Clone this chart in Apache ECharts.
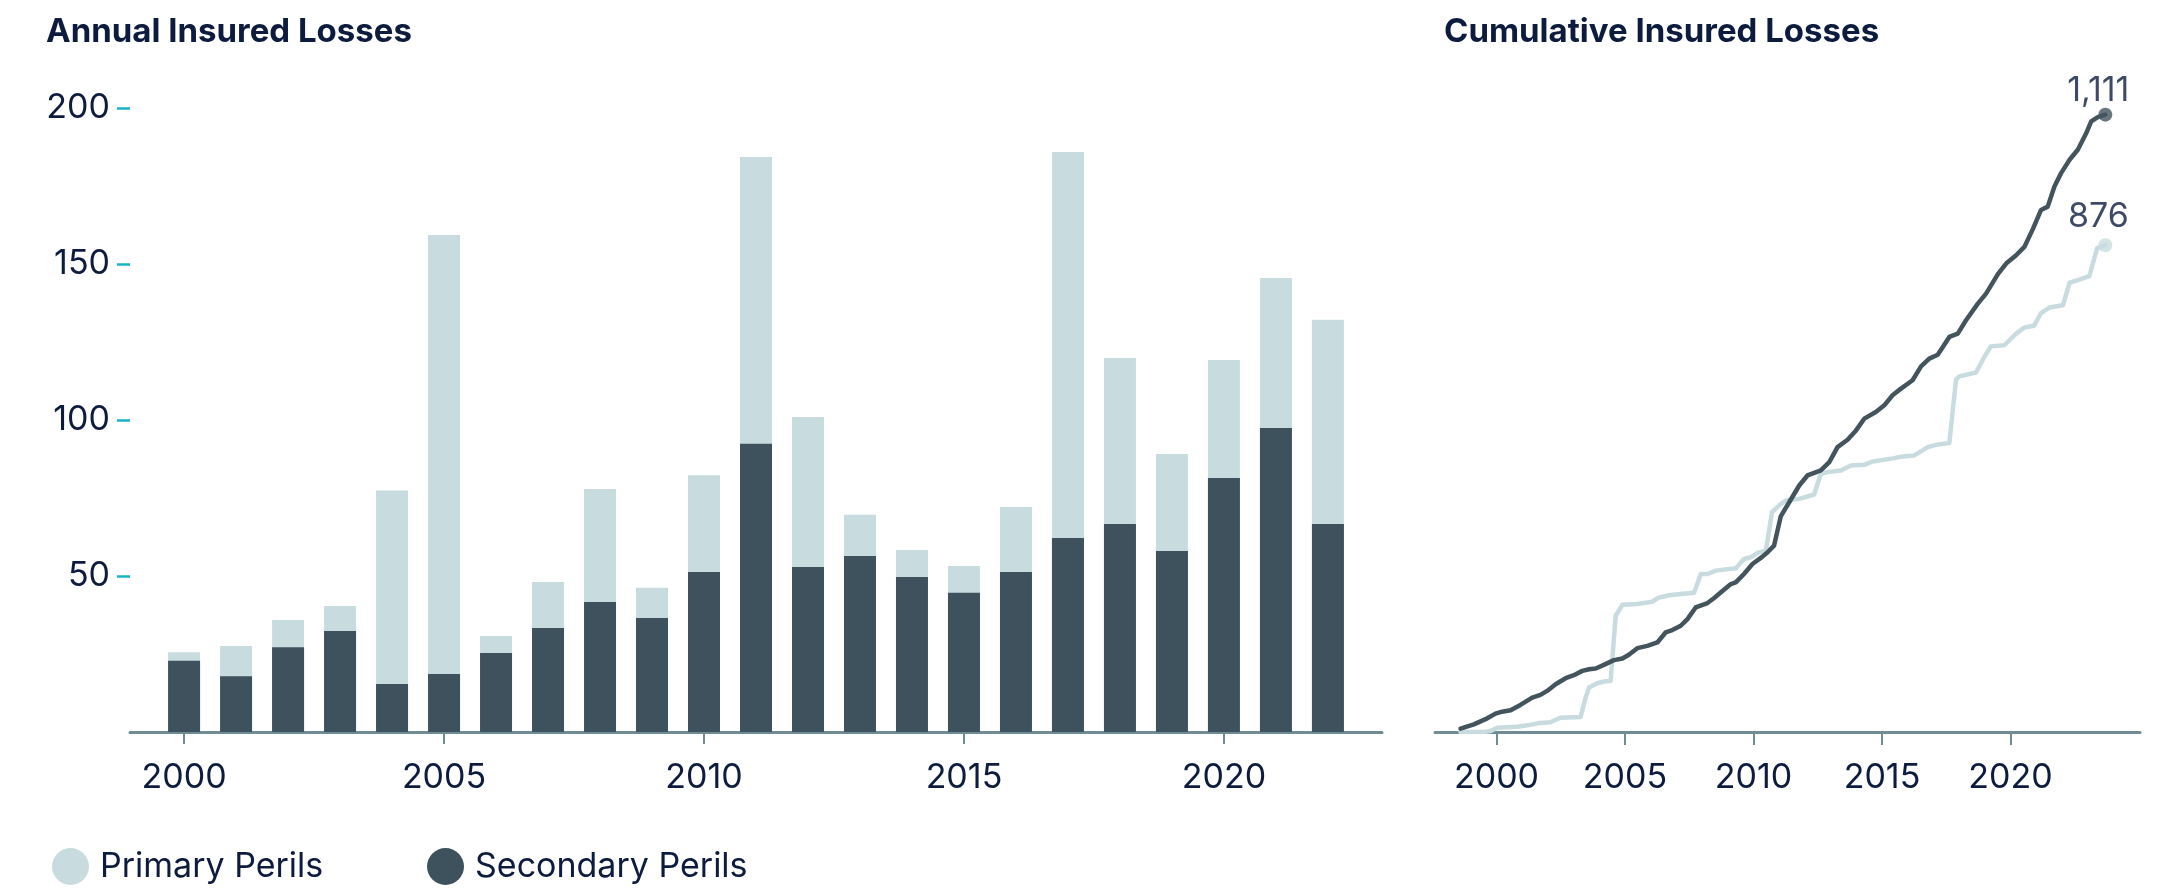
<!DOCTYPE html>
<html>
<head>
<meta charset="utf-8">
<title>Insured Losses</title>
<script src="https://cdn.jsdelivr.net/npm/echarts@6/dist/echarts.min.js"></script>
<style>
  html, body { margin: 0; padding: 0; background: #fff; }
  #chart { width: 2173px; height: 889px; }
</style>
</head>
<body>
<div id="chart"></div>
<script>
// annual insured losses (left panel)
const years = [2000, 2001, 2002, 2003, 2004, 2005, 2006, 2007, 2008, 2009, 2010, 2011,
  2012, 2013, 2014, 2015, 2016, 2017, 2018, 2019, 2020, 2021, 2022];
const secondaryPerils = [22.8, 17.9, 27.2, 32.4, 15.4, 18.6, 25.3, 33.3, 41.7, 36.5, 51.3, 92.4,
  52.9, 56.4, 49.7, 44.6, 51.3, 62.2, 66.7, 58.0, 81.4, 97.4, 66.7];
const primaryPerils = [2.8, 9.7, 8.7, 8.0, 62.0, 140.7, 5.5, 14.8, 36.2, 9.7, 31.0, 91.9,
  48.1, 13.2, 8.6, 8.6, 20.8, 123.7, 53.2, 31.1, 37.8, 48.1, 65.4];
const yTicks = [50, 100, 150, 200];
const xTicks = [2000, 2005, 2010, 2015, 2020];

// cumulative insured losses (right panel)
const secCumX = [1998.60, 1999.12, 1999.64, 1999.96, 2000.22, 2000.55, 2000.93, 2001.39, 2001.71, 2001.97,
  2002.30, 2002.69, 2003.01, 2003.34, 2003.60, 2003.86, 2004.18, 2004.57, 2004.90, 2005.15,
  2005.48, 2005.87, 2006.26, 2006.58, 2006.84, 2007.17, 2007.43, 2007.75, 2008.21, 2008.47,
  2008.85, 2009.12, 2009.31, 2009.63, 2009.96, 2010.35, 2010.55, 2010.80, 2011.06, 2011.39,
  2011.78, 2012.10, 2012.62, 2012.95, 2013.27, 2013.66, 2013.99, 2014.31, 2014.76, 2015.09,
  2015.41, 2015.74, 2016.19, 2016.52, 2016.84, 2017.17, 2017.62, 2017.95, 2018.27, 2018.73,
  2019.05, 2019.51, 2019.83, 2020.22, 2020.54, 2020.87, 2021.19, 2021.45, 2021.71, 2021.97,
  2022.30, 2022.62, 2022.95, 2023.14, 2023.40, 2023.69];
const secCumY = [6, 13.8, 24.6, 33.0, 36.6, 39.1, 48.7, 61.9, 66.7, 73.9,
  86.0, 96.8, 102.2, 110, 113, 114.2, 120.8, 129.3, 132.2, 138.9,
  150.9, 155.1, 161.1, 179.1, 183.4, 191.2, 203.2, 224.2, 232.1, 241.1,
  256.1, 266.3, 269.3, 284.4, 302.4, 315.6, 323.4, 335.4, 388, 413.5,
  443.6, 461.7, 470.7, 485.7, 512.7, 526, 542.8, 563.9, 575.9, 587.9,
  606, 618, 633, 658, 672, 679, 711, 717, 741, 771,
  789, 824, 843, 858, 873, 905, 939.6, 945.5, 981.6, 1005.8,
  1029.8, 1047.8, 1077.9, 1098.8, 1106.7, 1111];
const priCumX = [1998.60, 1999.51, 1999.77, 2000.03, 2000.81, 2001.20, 2001.59, 2002.10, 2002.49, 2003.27,
  2003.47, 2003.60, 2003.92, 2004.18, 2004.44, 2004.64, 2004.90, 2005.48, 2005.87, 2006.06,
  2006.32, 2006.78, 2007.17, 2007.69, 2007.95, 2008.21, 2008.53, 2009.31, 2009.63, 2009.89,
  2010.16, 2010.48, 2010.72, 2011.06, 2011.26, 2011.78, 2012.36, 2012.62, 2012.88, 2013.40,
  2013.79, 2014.31, 2014.64, 2015.48, 2015.81, 2016.26, 2016.78, 2017.17, 2017.62, 2017.88,
  2018.01, 2018.66, 2018.98, 2019.24, 2019.76, 2020.22, 2020.54, 2020.91, 2021.19, 2021.52,
  2022.04, 2022.30, 2022.62, 2023.07, 2023.37, 2023.69];
const priCumY = [0, 0, 1.8, 7.8, 9.6, 12, 15.6, 17.4, 25.8, 27.1,
  61.9, 79.9, 87.8, 90.8, 92, 209.2, 229, 230.2, 233.2, 234.4,
  242.2, 246.5, 248.3, 250.7, 284.4, 284.4, 290.4, 294.5, 311.4, 314.4,
  322.3, 326.4, 395.5, 410, 416.6, 419.6, 427.4, 464.7, 467.7, 470.7,
  479.7, 480.9, 486.9, 492.9, 496, 497.7, 512.7, 517.6, 519.9, 634,
  640, 647, 675, 694, 696, 717, 728, 731, 754, 764,
  768, 808.5, 813.3, 820.6, 870.5, 876];

const FONT = 'Inter';
const INK = '#0d1b3e';
const AXIS = '#6f8b93';
const LIGHT = '#c8dce0';
const DARK = '#3e525d';
const DARK_LINE = '#43545d';

const pairs = (xs, ys) => xs.map((x, i) => [x, ys[i]]);
const lastOf = (xs, ys) => [xs[xs.length - 1], ys[ys.length - 1]];
// light bar is drawn full height behind the dark one
const totals = secondaryPerils.map((v, i) => v + primaryPerils[i]);

const chart = echarts.init(document.getElementById('chart'));

const xLabel = { fontSize: 34, color: INK, fontFamily: FONT, formatter: v => String(v) };
const legendText = { fontSize: 34, color: INK, fontFamily: FONT, padding: [0, 0, 0, 6] };

chart.setOption({
  animation: false,
  title: [
    { text: 'Annual Insured Losses', left: 41, top: 11,
      textStyle: { fontSize: 33, fontWeight: 700, color: INK, fontFamily: FONT } },
    { text: 'Cumulative Insured Losses', left: 1439, top: 11,
      textStyle: { fontSize: 33, fontWeight: 700, color: INK, fontFamily: FONT } }
  ],
  legend: [
    { data: ['Primary Perils'], left: 47, top: 843, icon: 'circle', itemWidth: 37, itemHeight: 37,
      selectedMode: false, textStyle: legendText },
    { data: ['Secondary Perils'], left: 422, top: 843, icon: 'circle', itemWidth: 37, itemHeight: 37,
      selectedMode: false, textStyle: legendText }
  ],
  grid: [
    { left: 130, right: 791, top: 108, bottom: 157 },
    { left: 1435, right: 33, top: 93, bottom: 157 }
  ],
  xAxis: [
    {
      gridIndex: 0, type: 'value', min: 1998.96, max: 2023.04,
      splitLine: { show: false },
      axisLine: { lineStyle: { color: AXIS, width: 3 } },
      axisTick: { length: 12, customValues: xTicks, lineStyle: { color: AXIS, width: 2 } },
      axisLabel: Object.assign({ margin: 29, customValues: xTicks }, xLabel)
    },
    {
      gridIndex: 1, type: 'value', min: 1997.607, max: 2025.04,
      splitLine: { show: false },
      axisLine: { lineStyle: { color: AXIS, width: 3 } },
      axisTick: { length: 13, customValues: xTicks, lineStyle: { color: AXIS, width: 2 } },
      axisLabel: Object.assign({ margin: 29, customValues: xTicks }, xLabel)
    }
  ],
  yAxis: [
    {
      gridIndex: 0, type: 'value', min: 0, max: 200,
      splitLine: { show: false },
      axisLine: { show: false },
      axisTick: { show: true, length: 13, customValues: yTicks, lineStyle: { color: '#17b3c9', width: 2.5 } },
      axisLabel: { margin: 20, customValues: yTicks, fontSize: 34, color: INK, fontFamily: FONT }
    },
    {
      gridIndex: 1, type: 'value', min: 0, max: 1150, show: false
    }
  ],
  series: [
    {
      name: 'Primary Perils', type: 'bar', xAxisIndex: 0, yAxisIndex: 0,
      barWidth: 32, itemStyle: { color: LIGHT },
      data: pairs(years, totals)
    },
    {
      name: 'Secondary Perils', type: 'bar', xAxisIndex: 0, yAxisIndex: 0,
      barWidth: 32, barGap: '-100%', itemStyle: { color: DARK },
      data: pairs(years, secondaryPerils)
    },
    {
      name: 'Primary cumulative', type: 'line', xAxisIndex: 1, yAxisIndex: 1,
      showSymbol: false, symbol: 'none',
      lineStyle: { color: LIGHT, width: 4.5, join: 'round', cap: 'round' },
      data: pairs(priCumX, priCumY)
    },
    {
      name: 'Secondary cumulative', type: 'line', xAxisIndex: 1, yAxisIndex: 1,
      showSymbol: false, symbol: 'none',
      lineStyle: { color: DARK_LINE, width: 4.5, join: 'round', cap: 'round' },
      data: pairs(secCumX, secCumY)
    },
    {
      name: 'Totals', type: 'scatter', xAxisIndex: 1, yAxisIndex: 1,
      symbolSize: 14,
      label: {
        show: true, position: 'top', distance: 4, offset: [-7, 0],
        fontSize: 34, color: INK, fontFamily: FONT,
        formatter: p => Math.round(p.value[1]).toLocaleString('en-US')
      },
      data: [
        { value: lastOf(secCumX, secCumY), itemStyle: { color: DARK_LINE }, label: { distance: 0 } },
        { value: lastOf(priCumX, priCumY), itemStyle: { color: LIGHT } }
      ]
    }
  ]
});
</script>
</body>
</html>
